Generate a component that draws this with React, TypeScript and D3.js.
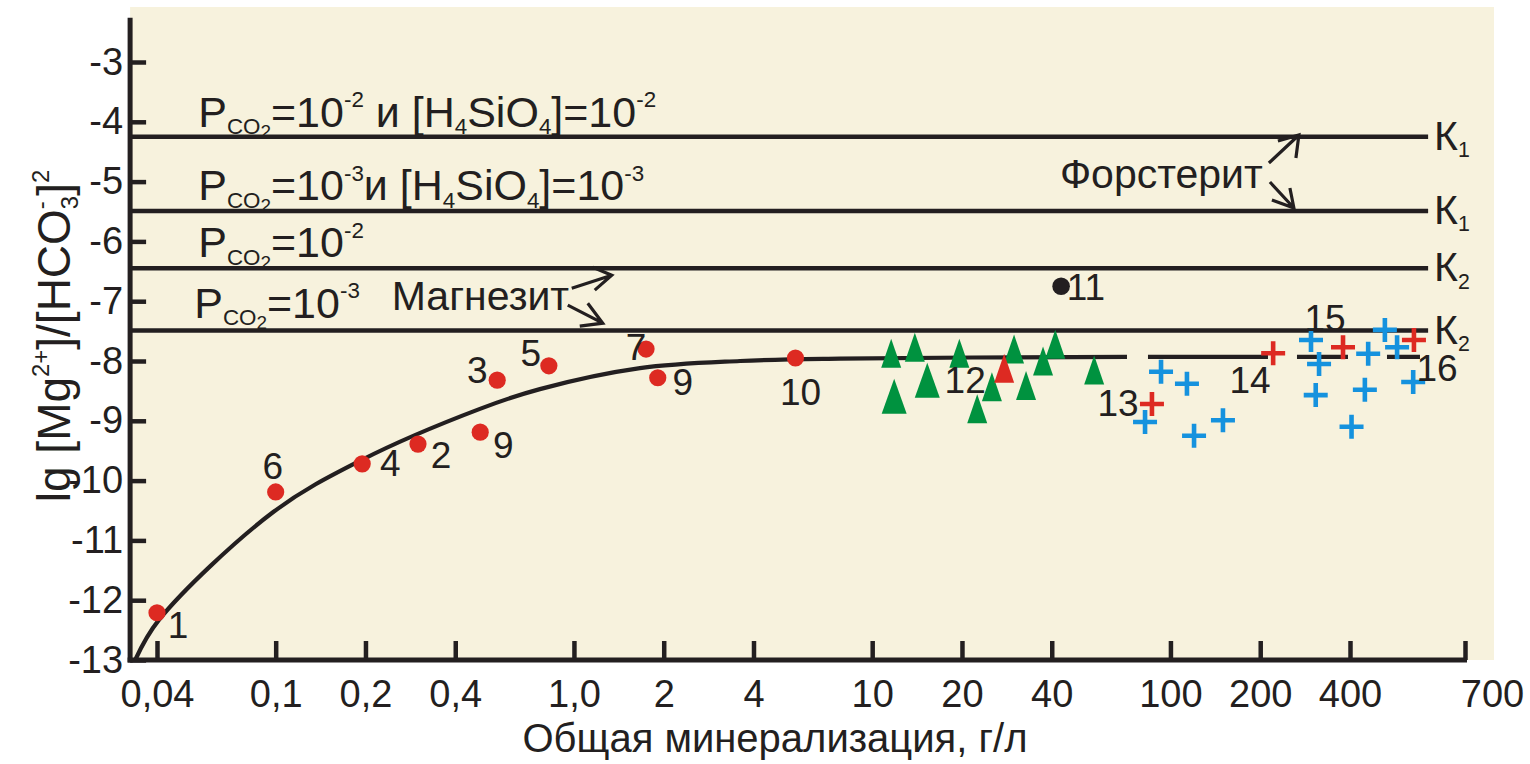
import React, { useEffect, useRef } from 'react';
import * as d3 from 'd3';

// x axis (g/l) ticks and labels as printed
const xTicks = [0.04, 0.1, 0.2, 0.4, 1, 2, 4, 10, 20, 40, 100, 200, 400, 700];
const xTickLabels = ['0,04', '0,1', '0,2', '0,4', '1,0', '2', '4', '10', '20', '40', '100', '200', '400', '700'];
const yTicks = [-3, -4, -5, -6, -7, -8, -9, -10, -11, -12, -13];

// equilibrium lines (lg value) and their K subscripts
const kValues = [-4.25, -5.49, -6.45, -7.49];
const kSubs = ['1', '1', '2', '2'];

// fitted curve
const curveX = [0.0338, 0.0406, 0.0979, 0.1932, 0.484, 0.769, 1.665, 3.604, 7.8, 71.5];
const curveY = [-13.0, -12.33, -10.53, -9.66, -8.8, -8.47, -8.12, -8.0, -7.96, -7.93];
// dashed continuation
const tailX = [71.5, 576];
const tailY = [-7.93, -7.93];

// red circles 1..10
const dotX = [0.04, 0.1, 0.195, 0.3, 0.485, 0.553, 0.824, 1.745, 1.91, 5.53];
const dotY = [-12.21, -10.19, -9.72, -9.39, -9.19, -8.32, -8.08, -7.8, -8.28, -7.95];
const dotLabels = ['1', '6', '4', '2', '9', '3', '5', '7', '9', '10'];

// black circle 11
const blackX = [43];
const blackY = [-6.75];

// triangles (group 12)
const triX = [11.58, 13.9, 19.6, 11.85, 15.3, 25.2, 22.5, 29.9, 32.8, 37.4, 41.1, 55.5];
const triY = [-7.87, -7.77, -7.87, -8.59, -8.32, -8.43, -8.8, -7.8, -8.41, -8.0, -7.72, -8.15];
const redTriX = [27.7];
const redTriY = [-8.12];

// crosses (groups 13-16)
const blueX = [93, 113.6, 82.2, 120, 150, 296, 315, 307, 403, 437, 430, 474, 503, 544];
const blueY = [-8.18, -8.38, -9.02, -9.25, -8.99, -7.65, -8.05, -8.57, -9.1, -7.88, -8.48, -7.48, -7.77, -8.35];
const redCrossX = [86.7, 221, 379, 546];
const redCrossY = [-8.72, -7.87, -7.77, -7.65];

// group numbers
const groupLabels = ['11', '12', '13', '14', '15', '16'];
const groupLabelX = [52.1, 20.5, 66.7, 185, 330, 611];
const groupLabelY = [-6.75, -8.32, -8.69, -8.32, -7.28, -8.12];

const ink = '#231f20';
const font = '"Liberation Sans", Arial, sans-serif';
const bigTriangles = [3, 4];
// label offsets (px) for the red circles
const dotLabelOffset = [[21, 12], [-3, -26], [28, -1], [23, 11], [23, 13], [-20, -10], [-18, -13], [-10, -2], [25, 4], [5, 34]];

type Part = { t: string; s?: 'sub' | 'sub2' | 'sup'; dx?: number };

function rich(g: any, x: number, y: number, parts: Part[], size: number, anchor = 'start') {
  const t = g.append('text')
    .attr('x', x).attr('y', y)
    .attr('font-size', size)
    .attr('font-family', font)
    .attr('fill', ink)
    .attr('text-anchor', anchor)
    .style('white-space', 'pre');
  let cur = 0;
  parts.forEach(p => {
    const lvl = p.s === 'sup' ? -0.45 : p.s === 'sub' ? 0.18 : p.s === 'sub2' ? 0.27 : 0;
    const fs = p.s === 'sup' ? 0.52 : p.s === 'sub' ? 0.52 : p.s === 'sub2' ? 0.44 : 1;
    const target = lvl * size;
    t.append('tspan')
      .attr('dy', target - cur)
      .attr('dx', p.dx || 0)
      .attr('font-size', fs * size)
      .text(p.t);
    cur = target;
  });
  return t;
}

const pco2: Part[] = [{ t: 'P' }, { t: 'CO', s: 'sub' }, { t: '2', s: 'sub2' }, { t: '=10' }];
const lineLabels: Part[][] = [
  [...pco2, { t: '-2', s: 'sup' }, { t: ' и [H' }, { t: '4', s: 'sub' }, { t: 'SiO' }, { t: '4', s: 'sub' }, { t: ']=10' }, { t: '-2', s: 'sup' }],
  [...pco2, { t: '-3', s: 'sup' }, { t: 'и [H' }, { t: '4', s: 'sub' }, { t: 'SiO' }, { t: '4', s: 'sub' }, { t: ']=10' }, { t: '-3', s: 'sup' }],
  [...pco2, { t: '-2', s: 'sup' }],
  [...pco2, { t: '-3', s: 'sup' }],
];

const MgChart = () => {
  const svgRef = useRef<SVGSVGElement>(null);
  const width = 1530;
  const height = 764;

  useEffect(() => {
    if (!svgRef.current) return;
    const svg = d3.select(svgRef.current);
    svg.selectAll('*').remove();

    const x = d3.scaleLog().domain([0.04, 400, 700]).range([157, 1350, 1465]);
    const y = d3.scaleLinear().domain([-13, -3]).range([660, 62]);
    const xLeft = x(0.0325);
    const xEnd = x(700);
    const yBottom = y(-13);
    const yTop = y(-2.26);

    // panel
    svg.append('rect')
      .attr('x', xLeft).attr('y', 7)
      .attr('width', xEnd + 29 - xLeft).attr('height', yBottom - 7)
      .attr('fill', '#f7f2dd');

    // equilibrium lines
    svg.selectAll('.kline')
      .data(kValues)
      .enter()
      .append('line')
      .attr('x1', xLeft).attr('x2', x(585))
      .attr('y1', d => y(d)).attr('y2', d => y(d))
      .attr('stroke', ink).attr('stroke-width', 4.5);

    kValues.forEach((v, i) => {
      rich(svg, x(585) + 6, y(v) + 13, [{ t: 'К' }, { t: kSubs[i], s: 'sub' }], 41);
    });

    // line annotations
    const labelGap = [10, 11, 11, 13];
    kValues.forEach((v, i) => {
      rich(svg, x(0.055) - (i === 3 ? 4 : 0), y(v) - labelGap[i], lineLabels[i], 43);
    });

    // curve
    const line = d3.line<number>()
      .x(i => x(curveX[i]))
      .y(i => y(curveY[i]))
      .curve(d3.curveCatmullRom.alpha(0.5));
    svg.append('path')
      .attr('d', line(d3.range(curveX.length)))
      .attr('fill', 'none').attr('stroke', ink).attr('stroke-width', 4.2);
    const tail = d3.line<number>().x(i => x(tailX[i])).y(i => y(tailY[i]));
    svg.append('path')
      .attr('d', tail(d3.range(tailX.length)))
      .attr('fill', 'none').attr('stroke', ink).attr('stroke-width', 4.2)
      .attr('stroke-dasharray', '0 21 120 29 51 39 33 300');

    // annotations with arrows
    const arrow = (pts: number[][]) => {
      const [s, t, a1, a2] = pts;
      svg.append('path')
        .attr('d', `M${s[0]},${s[1]}L${t[0]},${t[1]}M${a1[0]},${a1[1]}L${t[0]},${t[1]}L${a2[0]},${a2[1]}`)
        .attr('fill', 'none').attr('stroke', ink).attr('stroke-width', 3.2)
        .attr('stroke-linejoin', 'miter');
    };
    const mx = x(0.245);
    const my = y(-7.15);
    rich(svg, mx, my, [{ t: 'Магнезит' }], 41);
    arrow([[mx + 180, my - 22], [mx + 220, my - 35], [mx + 201, my - 43], [mx + 203, my - 20]]);
    arrow([[mx + 176, my - 5], [mx + 211, my + 13], [mx + 196, my - 7], [mx + 188, my + 16]]);

    const fx = x(42.6);
    const fy = y(-5.107);
    rich(svg, fx, fy, [{ t: 'Форстерит' }], 41);
    arrow([[fx + 209, fy - 25], [fx + 239, fy - 53], [fx + 218, fy - 47], [fx + 236, fy - 30]]);
    arrow([[fx + 210, fy - 6], [fx + 234, fy + 20], [fx + 212, fy + 12], [fx + 230, fy]]);

    // triangles
    const tri = (w: number, h: number) => `M0,${-h / 2}L${w / 2},${h / 2}L${-w / 2},${h / 2}Z`;
    svg.selectAll('.tri')
      .data(d3.range(triX.length))
      .enter()
      .append('path')
      .attr('transform', i => `translate(${x(triX[i])},${y(triY[i])})`)
      .attr('d', i => (bigTriangles.includes(i) ? tri(25, 35) : tri(20, 29)))
      .attr('fill', '#00923f');
    svg.selectAll('.rtri')
      .data(d3.range(redTriX.length))
      .enter()
      .append('path')
      .attr('transform', i => `translate(${x(redTriX[i])},${y(redTriY[i])})`)
      .attr('d', tri(20, 29))
      .attr('fill', '#dd2a22');

    // crosses
    const cross = 'M-12,0H12M0,-12V12';
    svg.selectAll('.bcross')
      .data(d3.range(blueX.length))
      .enter()
      .append('path')
      .attr('transform', i => `translate(${x(blueX[i])},${y(blueY[i])})`)
      .attr('d', cross)
      .attr('stroke', '#1592de').attr('stroke-width', 4.6);
    svg.selectAll('.rcross')
      .data(d3.range(redCrossX.length))
      .enter()
      .append('path')
      .attr('transform', i => `translate(${x(redCrossX[i])},${y(redCrossY[i])})`)
      .attr('d', cross)
      .attr('stroke', '#dd2a22').attr('stroke-width', 4.6);

    // circles
    svg.selectAll('.dot')
      .data(d3.range(dotX.length))
      .enter()
      .append('circle')
      .attr('cx', i => x(dotX[i]))
      .attr('cy', i => y(dotY[i]))
      .attr('r', 8.6)
      .attr('fill', '#dd2a22');
    svg.selectAll('.dotlab')
      .data(d3.range(dotX.length))
      .enter()
      .append('text')
      .attr('x', i => x(dotX[i]) + dotLabelOffset[i][0])
      .attr('y', i => y(dotY[i]) + dotLabelOffset[i][1])
      .attr('dy', '0.36em')
      .attr('text-anchor', 'middle')
      .attr('font-size', 37)
      .attr('font-family', font)
      .attr('fill', ink)
      .text(i => dotLabels[i]);

    svg.append('circle')
      .attr('cx', x(blackX[0])).attr('cy', y(blackY[0]))
      .attr('r', 8.8).attr('fill', ink);

    svg.selectAll('.glab')
      .data(d3.range(groupLabels.length))
      .enter()
      .append('text')
      .attr('x', i => x(groupLabelX[i]))
      .attr('y', i => y(groupLabelY[i]))
      .attr('dy', '0.36em')
      .attr('text-anchor', 'middle')
      .attr('font-size', 37)
      .attr('font-family', font)
      .attr('fill', ink)
      .text(i => groupLabels[i]);

    // axes
    const yAxis = d3.axisLeft(y).tickValues(yTicks).tickSize(-16).tickPadding(7).tickFormat(d => String(d));
    const gy = svg.append('g').attr('transform', `translate(${xLeft},0)`).call(yAxis);
    gy.select('.domain').remove();
    gy.selectAll('line').attr('stroke', ink).attr('stroke-width', 4.5);
    gy.selectAll('text').attr('font-size', 38).attr('font-family', font).attr('fill', ink);

    const xAxis = d3.axisBottom(x).tickValues(xTicks).tickSize(-19).tickPadding(20)
      .tickFormat((d, i) => xTickLabels[i]);
    const gx = svg.append('g').attr('transform', `translate(0,${yBottom})`).call(xAxis);
    gx.select('.domain').remove();
    gx.selectAll('line').attr('stroke', ink).attr('stroke-width', 4.5);
    gx.selectAll('text').attr('font-size', 38).attr('font-family', font).attr('fill', ink)
      .attr('dx', (d, i) => (i === xTicks.length - 1 ? 27 : 0));

    svg.append('line')
      .attr('x1', xLeft).attr('x2', xLeft)
      .attr('y1', yTop).attr('y2', yBottom + 2.5)
      .attr('stroke', ink).attr('stroke-width', 5);
    svg.append('line')
      .attr('x1', xLeft - 2.5).attr('x2', xEnd + 2)
      .attr('y1', yBottom).attr('y2', yBottom)
      .attr('stroke', ink).attr('stroke-width', 5);

    // axis titles
    svg.append('text')
      .attr('x', 775).attr('y', 752)
      .attr('text-anchor', 'middle')
      .attr('font-size', 40)
      .attr('font-family', font)
      .attr('fill', ink)
      .text('Общая минерализация, г/л');

    const yt = svg.append('g').attr('transform', 'translate(70,336) rotate(-90)');
    rich(yt, 0, 0, [
      { t: 'lg [Mg' }, { t: '2+', s: 'sup' }, { t: ']/[HCO' }, { t: '-', s: 'sup' },
      { t: '3', s: 'sub', dx: -8 }, { t: ']' }, { t: '2', s: 'sup' },
    ], 46, 'middle');
  }, []);

  return (
    <svg
      ref={svgRef}
      width={width}
      height={height}
      style={{ position: 'absolute', left: 0, top: 0, background: '#fff' }}
    />
  );
};

export default function App() {
  return <MgChart />;
}
